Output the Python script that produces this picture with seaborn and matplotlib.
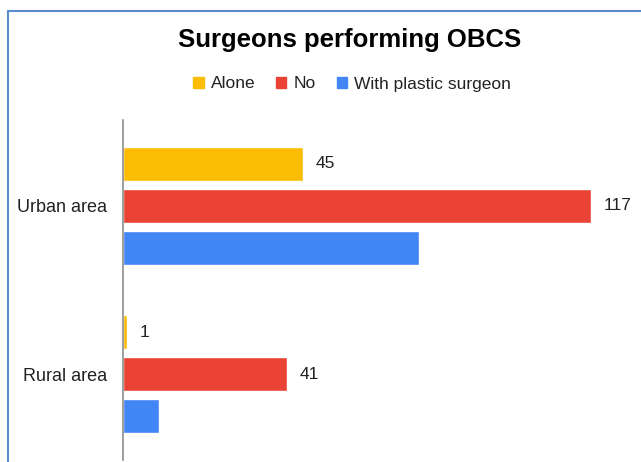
import pandas as pd
import matplotlib.pyplot as plt
import seaborn as sns
from matplotlib.patches import Rectangle

# data
areas = ['Urban area', 'Rural area']
groups = ['Alone', 'No', 'With plastic surgeon']
alone = [45, 1]
no = [117, 41]
with_plastic = [74, 9]

colors = ['#FBBC04', '#EA4335', '#4285F4']

df = pd.DataFrame({
    'Area': areas * 3,
    'Group': [g for g in groups for _ in areas],
    'Count': alone + no + with_plastic,
})

sns.set_style('white')
plt.rcParams['font.family'] = ['Liberation Sans', 'DejaVu Sans']

fig = plt.figure(figsize=(6.41, 4.62), dpi=100)
ax = fig.add_axes([123 / 641, 2 / 462, 480 / 641, 340 / 462])

sns.barplot(data=df, y='Area', x='Count', hue='Group', order=areas,
            hue_order=groups, palette=colors, orient='h', width=0.75,
            gap=0.2, saturation=1, legend=False, ax=ax)

ax.set_xlim(0, 120)
ax.set_ylim(1.51, -0.51)
ax.set_xlabel('')
ax.set_ylabel('')
ax.set_xticks([])
for s in ['top', 'right', 'bottom']:
    ax.spines[s].set_visible(False)
ax.spines['left'].set_color('#8c8c8c')
ax.spines['left'].set_linewidth(1.2)
ax.tick_params(axis='y', length=0, pad=11.5, labelsize=13, labelcolor='#222222')

# value labels only on first two series
for cont in ax.containers[:2]:
    ax.bar_label(cont, padding=9, fontsize=12.5, color='#222222')

# title and legend
fig.text(350 / 641, 1 - 40 / 462, 'Surgeons performing OBCS', ha='center',
         va='center', fontsize=18.5, fontweight='bold', color='black')
handles = [Rectangle((0, 0), 1, 1, color=c) for c in colors]
fig.legend(handles, groups, loc='center', bbox_to_anchor=(352 / 641, 1 - 84 / 462),
           ncol=3, frameon=False, fontsize=12.5, handlelength=0.6, handleheight=0.6,
           handletextpad=0.4, columnspacing=1.2, labelcolor='#222222')

# blue frame around the chart area
fig.patches.append(Rectangle((8 / 641, -0.1), 1.2, 1 - 11 / 462 + 0.1,
                             transform=fig.transFigure, fill=False,
                             edgecolor='#5b8bd0', linewidth=1.5))

plt.savefig('out.png', dpi=100)
